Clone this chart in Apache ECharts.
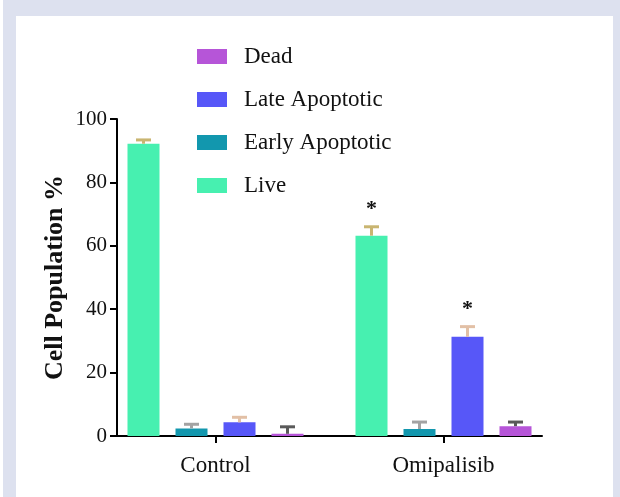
<!DOCTYPE html>
<html>
<head>
<meta charset="utf-8">
<script src="https://cdn.jsdelivr.net/npm/echarts@6/dist/echarts.min.js"></script>
<style>
  html, body { margin: 0; padding: 0; background: #ffffff; }
  #frame { position: absolute; left: 3px; top: 0; width: 617px; height: 497px; background: #dde1ef; }
  #panel { position: absolute; left: 16px; top: 16px; width: 597px; height: 481px; background: #ffffff; }
  #chart { position: absolute; left: 0; top: 0; width: 620px; height: 497px; }
</style>
</head>
<body>
<div id="frame"></div>
<div id="panel"></div>
<div id="chart"></div>
<script>
// ---- data ----
const categories = ['Control', 'Omipalisib'];
const seriesNames = ['Live', 'Early Apoptotic', 'Late Apoptotic', 'Dead'];
const legendOrder = ['Dead', 'Late Apoptotic', 'Early Apoptotic', 'Live'];
const liveMean = [92.2, 63.2];
const liveSem = [1.2, 2.8];
const earlyMean = [2.4, 2.2];
const earlySem = [1.3, 2.2];
const lateMean = [4.3, 31.3];
const lateSem = [1.6, 3.2];
const deadMean = [0.7, 3.1];
const deadSem = [2.2, 1.3];
const liveSig = ['', '*'];
const earlySig = ['', ''];
const lateSig = ['', '*'];
const deadSig = ['', ''];
const yTicks = [0, 20, 40, 60, 80, 100];

// ---- styles ----
const barColors = ['#47f0b0', '#1297ae', '#5757f8', '#b655d8'];
const errColors = ['#c9b571', '#a3a3a3', '#e2c0a6', '#5a5a5a'];
const offsets = [-72, -24, 24, 72];
const FONT = 'Liberation Serif, Times New Roman, serif';

const means = [liveMean, earlyMean, lateMean, deadMean];
const sems = [liveSem, earlySem, lateSem, deadSem];
const sigs = [liveSig, earlySig, lateSig, deadSig];

const chart = echarts.init(document.getElementById('chart'), null, { renderer: 'canvas' });

const series = [];
seriesNames.forEach((name, i) => {
  series.push({
    name: name,
    type: 'bar',
    xAxisIndex: 1,
    yAxisIndex: 1,
    barWidth: 32,
    barGap: '50%',
    itemStyle: { color: barColors[i] },
    data: means[i]
  });
});
seriesNames.forEach((name, i) => {
  const off = offsets[i];
  series.push({
    name: 'err-' + name,
    type: 'custom',
    xAxisIndex: 1,
    yAxisIndex: 1,
    z: 5,
    data: categories.map((c, k) => [k, means[i][k], means[i][k] + sems[i][k], sigs[i][k]]),
    encode: { x: 0, y: [1, 2] },
    renderItem: function (params, api) {
      const k = api.value(0);
      const p0 = api.coord([k, api.value(1)]);
      const p1 = api.coord([k, api.value(2)]);
      const x = p0[0] + off;
      const star = sigs[i][params.dataIndex];
      const children = [
        { type: 'line', shape: { x1: x, y1: p0[1], x2: x, y2: p1[1] }, style: { stroke: errColors[i], lineWidth: 3 } },
        { type: 'line', shape: { x1: x - 7.5, y1: p1[1], x2: x + 7.5, y2: p1[1] }, style: { stroke: errColors[i], lineWidth: 3 } }
      ];
      if (star) {
        children.push({ type: 'text', style: { x: x, y: p1[1] - 17, text: star, align: 'center', verticalAlign: 'middle', font: 'bold 22px ' + FONT, fill: '#111' } });
      }
      return { type: 'group', children: children };
    }
  });
});

const option = {
  animation: false,
  legend: {
    data: legendOrder,
    orient: 'vertical',
    left: 192,
    top: 40,
    itemWidth: 30,
    itemHeight: 15,
    itemGap: 20,
    icon: 'rect',
    selectedMode: false,
    textStyle: { fontFamily: FONT, fontSize: 23, color: '#111', padding: [0, 0, 0, 12] }
  },
  grid: [
    { left: 117, right: 78, top: 119, bottom: 61 },
    { left: 101.5, right: 62.5, top: 119, bottom: 61 }
  ],
  xAxis: [
    {
      gridIndex: 0, type: 'category', data: categories,
      axisLine: { show: true, lineStyle: { color: '#000', width: 2 } },
      axisTick: { show: false }, axisLabel: { show: false }, splitLine: { show: false }
    },
    {
      gridIndex: 1, type: 'category', data: categories,
      axisLine: { show: false },
      axisTick: { show: true, alignWithLabel: true, length: 7, lineStyle: { color: '#000', width: 2 } },
      axisLabel: { show: true, margin: 18, fontFamily: FONT, fontSize: 23, color: '#111' },
      splitLine: { show: false }
    }
  ],
  yAxis: [
    {
      gridIndex: 0, type: 'value', min: yTicks[0], max: yTicks[yTicks.length - 1], interval: 20,
      name: 'Cell Population %', nameLocation: 'middle', nameRotate: 90, nameGap: 49,
      nameMoveOverlap: false,
      nameTextStyle: { fontFamily: FONT, fontSize: 26, fontWeight: 'bold', color: '#111' },
      axisLine: { show: true, lineStyle: { color: '#000', width: 2 } },
      axisTick: { show: true, length: 7, lineStyle: { color: '#000', width: 2 } },
      axisLabel: { margin: 10, fontFamily: FONT, fontSize: 21, color: '#111' },
      splitLine: { show: false }
    },
    {
      gridIndex: 1, type: 'value', min: yTicks[0], max: yTicks[yTicks.length - 1], interval: 20,
      show: false
    }
  ],
  series: series
};
chart.setOption(option);
</script>
</body>
</html>
